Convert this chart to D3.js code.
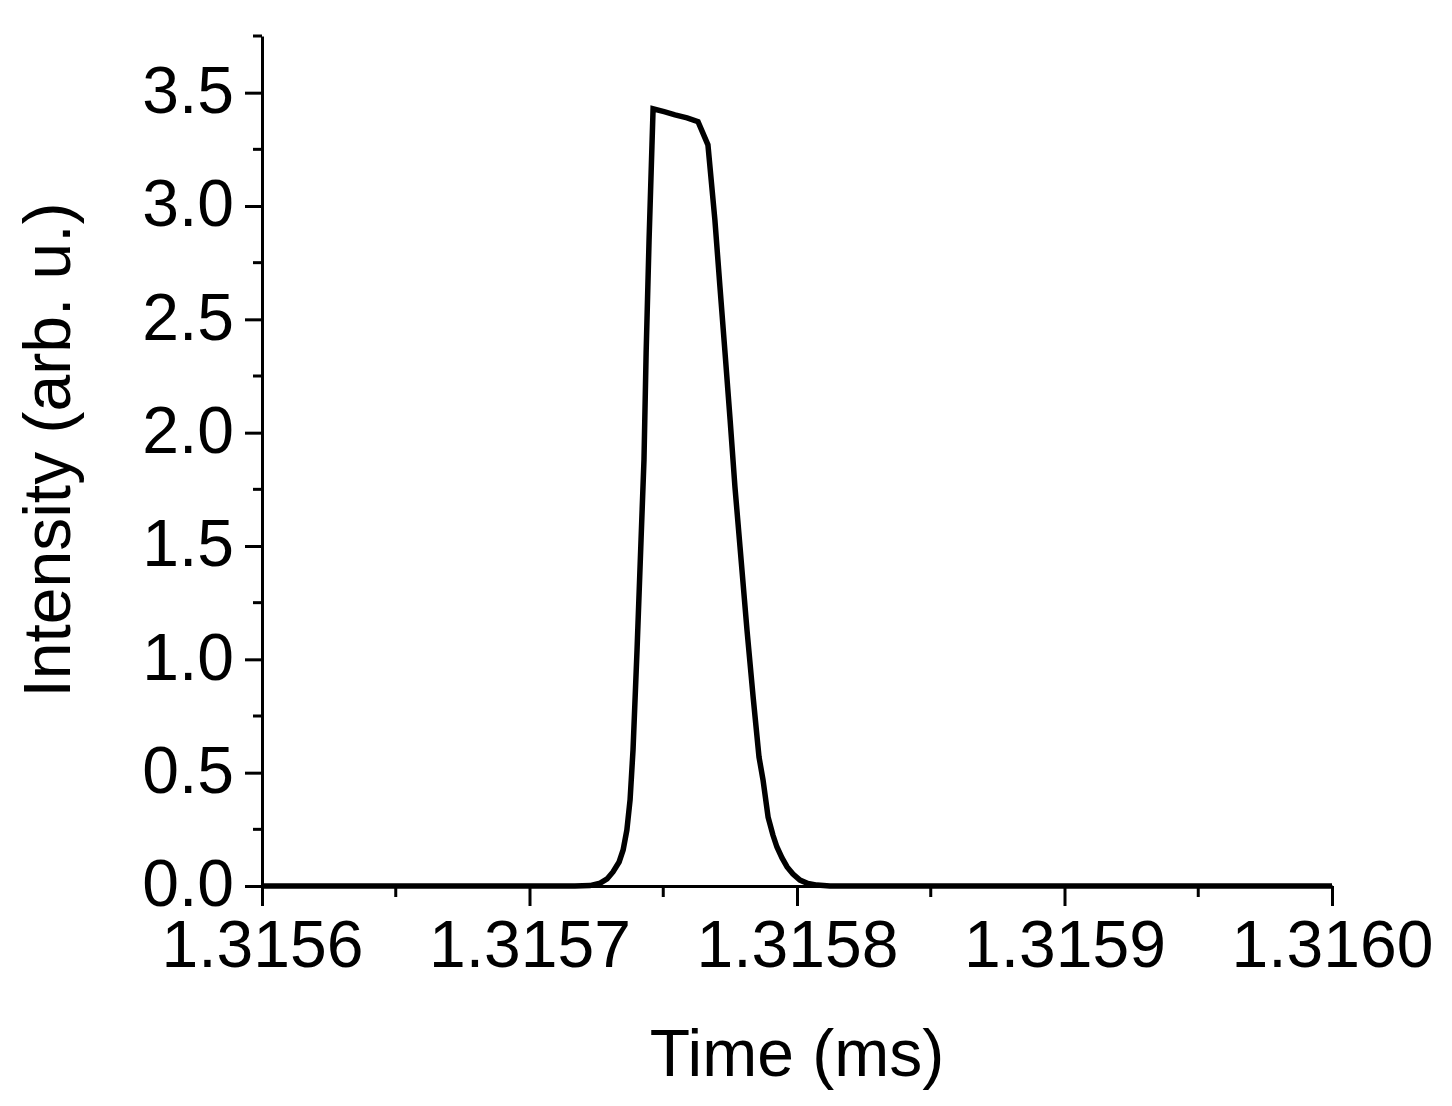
<!DOCTYPE html>
<html>
<head>
<meta charset="utf-8">
<script src="https://cdn.jsdelivr.net/npm/d3@7"></script>
<style>
  html, body { margin: 0; padding: 0; background: #fff; }
  svg { display: block; }
  text { font-family: "Liberation Sans", Arial, sans-serif; fill: #000; }
</style>
</head>
<body>
<svg id="chart" width="1452" height="1106"></svg>
<script>
// ---- Data ----
const time = [
  1.3156000, 1.3157170, 1.3157226, 1.3157264, 1.3157290, 1.3157312, 1.3157335,
  1.3157350, 1.3157364, 1.3157376, 1.3157387, 1.3157402, 1.3157417, 1.3157428,
  1.3157436, 1.3157447, 1.3157462, 1.3157503, 1.3157544, 1.3157589, 1.3157630,
  1.3157667, 1.3157693, 1.3157712, 1.3157731, 1.3157750, 1.3157768, 1.3157787,
  1.3157813, 1.3157836, 1.3157858, 1.3157873, 1.3157892, 1.3157910, 1.3157925,
  1.3157944, 1.3157963, 1.3157985, 1.3158011, 1.3158041, 1.3158075, 1.3158123,
  1.3160000
];
const intensity = [
  0.000, 0.000, 0.002, 0.013, 0.031, 0.062, 0.106,
  0.159, 0.247, 0.380, 0.600, 1.041, 1.527, 1.880,
  2.352, 2.851, 3.429, 3.416, 3.402, 3.389, 3.372,
  3.270, 2.939, 2.643, 2.352, 2.056, 1.761, 1.496,
  1.130, 0.834, 0.569, 0.468, 0.304, 0.225, 0.172,
  0.124, 0.084, 0.053, 0.026, 0.011, 0.004, 0.000,
  0.000
];
const xMajorTicks = [1.3156, 1.3157, 1.3158, 1.3159, 1.3160];
const xTickLabels = ["1.3156", "1.3157", "1.3158", "1.3159", "1.3160"];
const xMinorTicks = [1.31565, 1.31575, 1.31585, 1.31595];
const yMajorTicks = [0, 0.5, 1.0, 1.5, 2.0, 2.5, 3.0, 3.5];
const yTickLabels = ["0.0", "0.5", "1.0", "1.5", "2.0", "2.5", "3.0", "3.5"];
const yMinorTicks = [0.25, 0.75, 1.25, 1.75, 2.25, 2.75, 3.25, 3.75];
const xTitle = "Time (ms)";
const yTitle = "Intensity (arb. u.)";

// ---- Layout ----
const margin = { left: 262, top: 36, right: 120, bottom: 220 };
const plotW = 1332 - margin.left;
const plotH = 886 - margin.top;

const svg = d3.select("#chart");
const g = svg.append("g").attr("transform", `translate(${margin.left},${margin.top})`);

const x = d3.scaleLinear().domain([1.3156, 1.3160]).range([0, plotW]);
const y = d3.scaleLinear().domain([0, 3.75]).range([plotH, 0]);

const fontSize = 66;

// X axis
const xAxis = d3.axisBottom(x)
  .tickValues(xMajorTicks)
  .tickFormat((d, i) => xTickLabels[i])
  .tickSize(20)
  .tickSizeOuter(0)
  .tickPadding(14);
const gx = g.append("g").attr("transform", `translate(0,${plotH})`).call(xAxis);
gx.append("g").selectAll("line").data(xMinorTicks).join("line")
  .attr("x1", d => x(d)).attr("x2", d => x(d))
  .attr("y1", 0).attr("y2", 11)
  .attr("stroke", "#000").attr("stroke-width", 3);

// Y axis
const yAxis = d3.axisLeft(y)
  .tickValues(yMajorTicks)
  .tickFormat((d, i) => yTickLabels[i])
  .tickSize(17)
  .tickSizeOuter(0)
  .tickPadding(11);
const gy = g.append("g").call(yAxis);
gy.append("g").selectAll("line").data(yMinorTicks).join("line")
  .attr("x1", 0).attr("x2", -9)
  .attr("y1", d => y(d)).attr("y2", d => y(d))
  .attr("stroke", "#000").attr("stroke-width", 3);

[gx, gy].forEach(a => {
  a.select(".domain").attr("stroke", "#000").attr("stroke-width", 3);
  a.selectAll(".tick line").attr("stroke", "#000").attr("stroke-width", 3);
  a.selectAll(".tick text")
    .style("font-family", '"Liberation Sans", Arial, sans-serif')
    .style("font-size", fontSize + "px")
    .attr("fill", "#000");
});
gy.selectAll(".tick text").attr("dy", "0.3em");

// Line
const line = d3.line()
  .x((d, i) => x(time[i]))
  .y((d, i) => y(intensity[i]));
g.append("path")
  .datum(time)
  .attr("d", line)
  .attr("fill", "none")
  .attr("stroke", "#000")
  .attr("stroke-width", 5.5)
  .attr("stroke-linejoin", "miter");

// Axis titles
svg.append("text")
  .attr("x", 797)
  .attr("y", 1076)
  .attr("text-anchor", "middle")
  .style("font-size", fontSize + "px")
  .text(xTitle);

svg.append("text")
  .attr("transform", `translate(70,450) rotate(-90)`)
  .attr("text-anchor", "middle")
  .style("font-size", fontSize + "px")
  .text(yTitle);
</script>
</body>
</html>
